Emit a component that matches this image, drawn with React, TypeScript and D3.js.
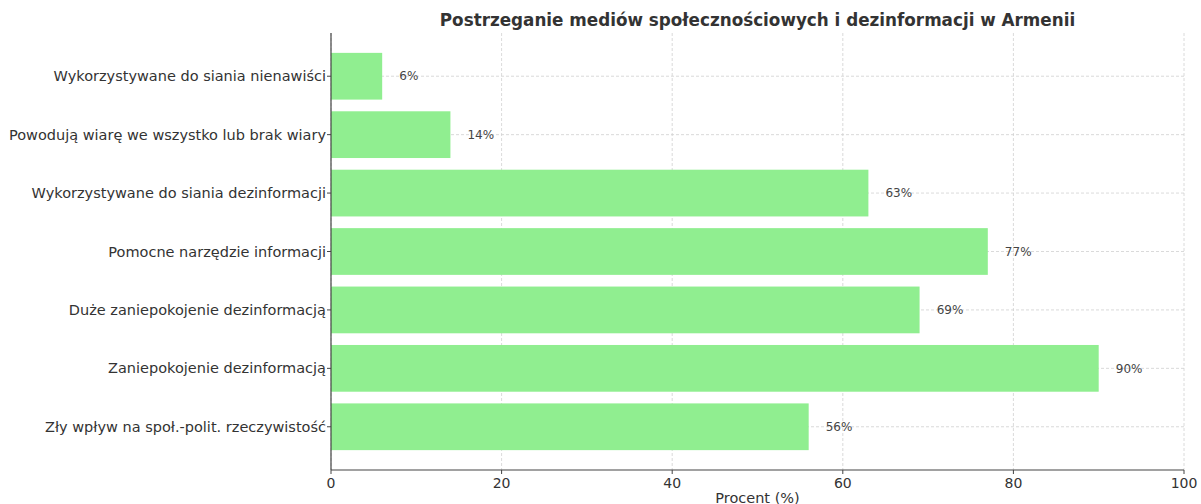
import React from "react";
import * as d3 from "d3";

const categories = [
  "Wykorzystywane do siania nienawiści",
  "Powodują wiarę we wszystko lub brak wiary",
  "Wykorzystywane do siania dezinformacji",
  "Pomocne narzędzie informacji",
  "Duże zaniepokojenie dezinformacją",
  "Zaniepokojenie dezinformacją",
  "Zły wpływ na społ.-polit. rzeczywistość",
];
const values = [6, 14, 63, 77, 69, 90, 56];
const xTicks = [0, 20, 40, 60, 80, 100];
const title = "Postrzeganie mediów społecznościowych i dezinformacji w Armenii";
const xLabel = "Procent (%)";

const W = 1201;
const H = 504;
const left = 331;
const right = 1184;
const top = 33;
const bottom = 470;
const font = "DejaVu Sans, sans-serif";

export default function App() {
  const x = d3.scaleLinear().domain([0, 100]).range([left, right]);
  const n = categories.length;
  const y = d3
    .scaleLinear()
    .domain([-0.4 - 0.34, n - 1 + 0.4 + 0.34])
    .range([top, bottom]);
  const barH = y(0.4) - y(-0.4);

  return (
    <svg
      width={W}
      height={H}
      style={{ position: "absolute", left: 0, top: 0, background: "#fff" }}
      fontFamily={font}
    >
      {xTicks.map((t) => (
        <line
          key={"gx" + t}
          x1={x(t)}
          x2={x(t)}
          y1={top}
          y2={bottom}
          stroke="#d0d0d0"
          strokeWidth={0.8}
          strokeDasharray="3,2"
        />
      ))}
      {categories.map((c, i) => (
        <line
          key={"gy" + i}
          x1={left}
          x2={right}
          y1={y(i)}
          y2={y(i)}
          stroke="#d0d0d0"
          strokeWidth={0.8}
          strokeDasharray="3,2"
        />
      ))}
      {values.map((v, i) => (
        <rect
          key={"b" + i}
          x={x(0)}
          y={y(i) - barH / 2}
          width={x(v) - x(0)}
          height={barH}
          fill="#90EE90"
        />
      ))}
      {values.map((v, i) => (
        <text
          key={"v" + i}
          x={x(v + 2)}
          y={y(i)}
          dy="0.35em"
          fontSize={12}
          fill="#444"
        >
          {v}%
        </text>
      ))}
      <line x1={left} x2={left} y1={top} y2={bottom} stroke="#444" strokeWidth={1.2} />
      <line x1={left} x2={right} y1={bottom} y2={bottom} stroke="#444" strokeWidth={1.2} />
      {categories.map((c, i) => (
        <g key={"yt" + i}>
          <line x1={left - 4} x2={left} y1={y(i)} y2={y(i)} stroke="#444" strokeWidth={1} />
          <text
            x={left - 5}
            y={y(i)}
            dy="0.35em"
            textAnchor="end"
            fontSize={14.5}
            fill="#333"
          >
            {c}
          </text>
        </g>
      ))}
      {xTicks.map((t) => (
        <g key={"xt" + t}>
          <line x1={x(t)} x2={x(t)} y1={bottom} y2={bottom + 4} stroke="#444" strokeWidth={1} />
          <text
            x={x(t)}
            y={bottom + 18}
            textAnchor="middle"
            fontSize={14}
            fill="#333"
          >
            {t}
          </text>
        </g>
      ))}
      <text x={(left + right) / 2} y={503} textAnchor="middle" fontSize={14.5} fill="#333">
        {xLabel}
      </text>
      <text
        x={(left + right) / 2}
        y={26}
        textAnchor="middle"
        fontSize={16.8}
        fontWeight="bold"
        fill="#333"
      >
        {title}
      </text>
    </svg>
  );
}
